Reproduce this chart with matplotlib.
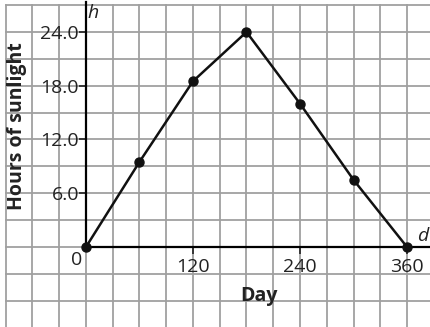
import numpy as np
import matplotlib
matplotlib.use("Agg")
import matplotlib.pyplot as plt

plt.rcParams["font.family"] = ["Open Sans", "DejaVu Sans"]

# day of year vs hours of sunlight
days = [0, 60, 120, 180, 240, 300, 360]
hours = [0, 9.5, 18.5, 24.0, 16.0, 7.5, 0]

x_ticks = [120, 240, 360]
x_tick_labels = ["120", "240", "360"]
y_ticks = [6, 12, 18, 24]
y_tick_labels = ["6.0", "12.0", "18.0", "24.0"]

fig = plt.figure(figsize=(4.31, 3.27), dpi=100)
ax = fig.add_axes([0, 0, 1, 1])
xmin, xmax = -96.4, 386.9
ymin, ymax = -8.93, 27.57
ax.set_xlim(xmin, xmax)
ax.set_ylim(ymin, ymax)

# graph paper: 30 days by 3 hours per square
grid_col = "#a0a0a0"
for gx in np.arange(-90, 400, 30):
    ax.plot([gx, gx], [ymin, 27], color=grid_col, lw=1.3, zorder=0)
for gy in np.arange(-9, 28, 3):
    ax.plot([-90, xmax], [gy, gy], color=grid_col, lw=1.3, zorder=0)

for side in ["top", "right"]:
    ax.spines[side].set_visible(False)
ax.spines["left"].set_position(("data", 0))
ax.spines["bottom"].set_position(("data", 0))
ax.spines["left"].set_bounds(0, 27.4)
ax.spines["bottom"].set_bounds(0, xmax)
for side in ["left", "bottom"]:
    ax.spines[side].set_linewidth(1.6)
    ax.spines[side].set_zorder(2)

ax.set_xticks(x_ticks)
ax.set_xticklabels(x_tick_labels)
ax.set_yticks(y_ticks)
ax.set_yticklabels(y_tick_labels)
ax.tick_params(direction="out", length=5, width=1.2, labelsize=14,
               colors="#222222")
ax.tick_params(axis="y", pad=0)
ax.tick_params(axis="x", pad=3)
ax.patch.set_visible(False)

ax.plot(days, hours, color="#111111", lw=1.8, marker="o", ms=6.5, zorder=3,
        clip_on=False)

ax.text(-10, -1.5, "0", ha="center", va="center", fontsize=14, color="#222222")
ax.text(2.0, 26.1, "h", ha="left", va="center", fontsize=14,
        style="italic", color="#222222")
ax.text(378, 1.2, "d", ha="center", va="center", fontsize=14,
        style="italic", color="#222222")
ax.text(194, -5.5, "Day", ha="center", va="center", fontsize=14,
        fontweight="bold", color="#222222")
ax.text(-77, 13.5, "Hours of sunlight", ha="center", va="center",
        fontsize=14, fontweight="bold", rotation=90, color="#222222")

fig.savefig("out.png", dpi=100)
